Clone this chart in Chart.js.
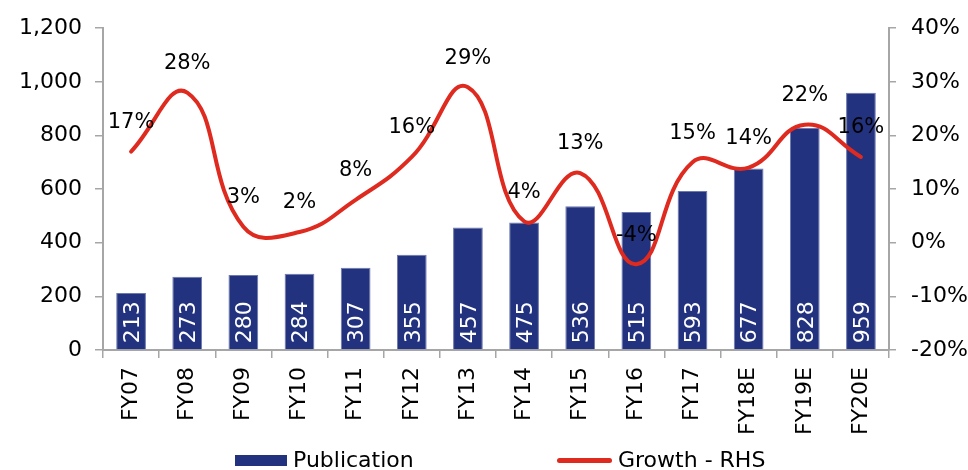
<!DOCTYPE html>
<html>
<head>
<meta charset="utf-8">
<script src="https://cdn.jsdelivr.net/npm/chart.js@4.4.0/dist/chart.umd.min.js"></script>
<style>
  html, body { margin: 0; padding: 0; background: #fff; }
  #wrap { position: relative; width: 968px; height: 470px; overflow: hidden; }
  #c { position: absolute; left: 0; top: 0; }
  .lg { position: absolute; top: 447px; display: flex; align-items: center; height: 26px;
        font-family: "DejaVu Sans", sans-serif; font-size: 22px; line-height: 26px; color: #000; white-space: nowrap; }
  .sw-bar { width: 52px; height: 11px; background: #22327E; margin-right: 6px; }
  .sw-line { width: 55px; height: 5px; background: #DE2A1F; border-radius: 3px; margin-right: 6px; }
</style>
</head>
<body>
<div id="wrap">
  <canvas id="c" width="968" height="470"></canvas>
  <div class="lg" style="left:235px"><div class="sw-bar"></div><span>Publication</span></div>
  <div class="lg" style="left:557px"><div class="sw-line"></div><span>Growth - RHS</span></div>
</div>
<script>
const categories = ['FY07','FY08','FY09','FY10','FY11','FY12','FY13','FY14','FY15','FY16','FY17','FY18E','FY19E','FY20E'];
const publication = [213, 273, 280, 284, 307, 355, 457, 475, 536, 515, 593, 677, 828, 959];
const growth = [17, 28, 3, 2, 8, 16, 29, 4, 13, -4, 15, 14, 22, 16];
const leftTicks = [0, 200, 400, 600, 800, 1000, 1200];
const rightTicks = [-20, -10, 0, 10, 20, 30, 40];

const FONT = '"DejaVu Sans", sans-serif';
const AXIS = '#A6A6A6';

const labelPlugin = {
  id: 'valueLabels',
  afterDatasetsDraw(chart) {
    const ctx = chart.ctx;
    const barMeta = chart.getDatasetMeta(0);
    ctx.save();
    ctx.font = '22px ' + FONT;
    ctx.fillStyle = '#FFFFFF';
    ctx.textAlign = 'left';
    ctx.textBaseline = 'middle';
    barMeta.data.forEach((el, i) => {
      ctx.save();
      ctx.translate(el.x + 2, el.base - 6);
      ctx.rotate(-Math.PI / 2);
      ctx.fillText(String(publication[i]), 0, 0);
      ctx.restore();
    });
    const lineMeta = chart.getDatasetMeta(1);
    ctx.font = '21px ' + FONT;
    ctx.fillStyle = '#000000';
    ctx.textAlign = 'center';
    lineMeta.data.forEach((pt, i) => {
      ctx.fillText(growth[i] + '%', pt.x, pt.y - 29);
    });
    ctx.restore();
  }
};

new Chart(document.getElementById('c'), {
  data: {
    labels: categories,
    datasets: [
      {
        type: 'bar',
        label: 'Publication',
        data: publication,
        yAxisID: 'y',
        backgroundColor: '#22327E',
        borderColor: '#6C78AE',
        borderWidth: 1,
        barPercentage: 0.53,
        categoryPercentage: 1.0,
        order: 1
      },
      {
        type: 'line',
        label: 'Growth - RHS',
        data: growth,
        yAxisID: 'y1',
        borderColor: '#DE2A1F',
        backgroundColor: '#DE2A1F',
        borderWidth: 4,
        borderCapStyle: 'round',
        borderJoinStyle: 'round',
        pointRadius: 0,
        pointHoverRadius: 0,
        tension: 0.45,
        fill: false,
        order: 0
      }
    ]
  },
  options: {
    responsive: false,
    animation: false,
    devicePixelRatio: 1,
    layout: { padding: { top: 21, left: 0, right: 0, bottom: 0 } },
    plugins: { legend: { display: false }, tooltip: { enabled: false } },
    scales: {
      x: {
        type: 'category',
        grid: { offset: true, drawOnChartArea: false, drawTicks: true, tickLength: 8, color: AXIS, lineWidth: 1.5 },
        border: { color: AXIS, width: 2 },
        ticks: { autoSkip: false, maxRotation: 90, minRotation: 90, padding: 9, color: '#000', font: { family: FONT, size: 22 } },
        afterFit(s) { s.height = 120; }
      },
      y: {
        position: 'left',
        min: 0, max: 1200,
        afterBuildTicks(s) { s.ticks = leftTicks.map(v => ({ value: v })); },
        grid: { drawOnChartArea: false, drawTicks: true, tickLength: 8, color: AXIS, lineWidth: 1.5 },
        border: { color: AXIS, width: 2 },
        ticks: { padding: 13, color: '#000', font: { family: FONT, size: 22 },
                 callback: v => Number(v).toLocaleString('en-US') },
        afterFit(s) { s.width = 103; }
      },
      y1: {
        position: 'right',
        min: -20, max: 40,
        afterBuildTicks(s) { s.ticks = rightTicks.map(v => ({ value: v })); },
        grid: { drawOnChartArea: false, drawTicks: true, tickLength: 7, color: AXIS, lineWidth: 1.5 },
        border: { color: AXIS, width: 2 },
        ticks: { padding: 15, color: '#000', font: { family: FONT, size: 22 },
                 callback: v => v + '%' },
        afterFit(s) { s.width = 79; }
      }
    }
  },
  plugins: [labelPlugin]
});
</script>
</body>
</html>
